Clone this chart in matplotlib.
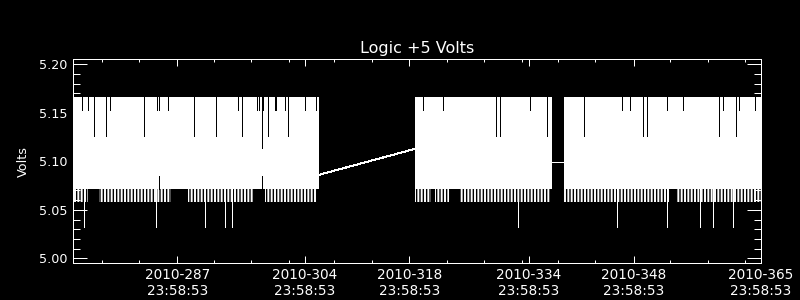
import matplotlib
matplotlib.use("Agg")
import matplotlib.pyplot as plt

# ---------------- data (day-of-year 2010, fractional) ----------------
title = "Logic +5 Volts"
ylabel = "Volts"

# continuous data segments [start, end]
seg_start = [274.00, 319.81, 339.69]
seg_end = [306.93, 338.04, 365.999]
# values at segment ends / starts (used by the connecting line across gaps)
seg_start_val = [5.100, 5.1129, 5.0995]
seg_end_val = [5.0861, 5.0995, 5.100]

band_low = 5.0717   # lower envelope of the dense signal
band_high = 5.1667  # upper envelope of the dense signal
dip_low = 5.0586    # frequent one-step dips below the band

# intervals where the frequent one-step dips occur
dip_start = [274.00, 277.56, 289.42, 299.71, 319.81, 322.44, 325.78, 339.69, 354.67]
dip_end = [276.05, 287.18, 298.24, 306.53, 321.90, 324.31, 337.81, 353.73, 365.99]

# deep negative spikes
spike_days = [275.55, 285.20, 291.73, 294.43, 295.34, 333.60, 346.84,
              353.50, 357.90, 359.65, 362.32]
spike_val = 5.032

# columns where the upper envelope is lower (slits from the top)
top_short_days = [275.20, 276.09, 279.03, 285.31, 285.58, 286.78, 296.14,
                  298.68, 298.95, 299.48, 301.09, 301.22, 302.42, 305.10,
                  306.49, 320.80, 323.55, 335.18, 347.48, 348.55, 353.50,
                  355.64, 360.98, 363.12, 365.26]
top_short_val = 5.1533
top_long_days = [276.89, 278.49, 283.57, 290.18, 293.20, 296.68, 300.07,
                 302.83, 330.64, 331.17, 337.41, 342.40, 350.29, 350.82,
                 360.45, 362.72]
top_long_val = 5.1265
top_deep_days = [299.35]
top_deep_val = 5.1132

# columns where the lower envelope is higher (slits from the bottom)
bottom_slit_days = [285.58, 299.35]
bottom_slit_val = 5.085

# axis ticks
major_tick_days = [287.99922, 304.99922, 318.99922, 334.99922, 348.99922, 365.99922]
major_tick_labels = ["2010-287\n23:58:53", "2010-304\n23:58:53", "2010-318\n23:58:53",
                     "2010-334\n23:58:53", "2010-348\n23:58:53", "2010-365\n23:58:53"]
minor_tick_days = [277.96, 282.90, 292.93, 297.88, 302.96, 308.98, 313.98,
                   324.00, 328.95, 334.03, 338.92, 343.90, 353.90, 358.98, 363.93]
y_major = [5.00, 5.05, 5.10, 5.15, 5.20]
y_minor = [5.01, 5.02, 5.03, 5.04, 5.06, 5.07, 5.08, 5.09,
           5.11, 5.12, 5.13, 5.14, 5.16, 5.17, 5.18, 5.19]
x_range = [274.00, 365.99922]
y_range = [4.995, 5.205]

# ---------------- drawing ----------------
plt.rcParams['font.family'] = ['DejaVu Sans']
plt.rcParams['hatch.linewidth'] = 1.4
PX = 0.72  # one pixel in points at dpi 100

fig = plt.figure(figsize=(8, 3), dpi=100, facecolor='black')
ax = fig.add_axes([72.7 / 800, 1 - 263.3 / 300, 688.0 / 800, 204.0 / 300])
ax.set_facecolor('black')

# dense band of each segment
for s, e in zip(seg_start, seg_end):
    ax.fill_between([s, e], [band_low, band_low], [band_high, band_high],
                    color='white', linewidth=0, antialiased=False)

# frequent dips, rendered as a fine vertical texture
for s, e in zip(dip_start, dip_end):
    ax.fill_between([s, e], [dip_low, dip_low], [band_low, band_low],
                    facecolor='none', edgecolor='white', hatch='|||||',
                    linewidth=0)

# connecting lines across data gaps
for i in range(len(seg_start) - 1):
    ax.plot([seg_end[i], seg_start[i + 1]], [seg_end_val[i], seg_start_val[i + 1]],
            color='white', linewidth=PX, antialiased=False)

# deep spikes
ax.vlines(spike_days, spike_val, band_low, colors='white', linewidth=PX,
          antialiased=False)

# slits
ax.vlines(top_short_days, top_short_val, band_high, colors='black', linewidth=PX,
          antialiased=False)
ax.vlines(top_long_days, top_long_val, band_high, colors='black', linewidth=PX,
          antialiased=False)
ax.vlines(top_deep_days, top_deep_val, band_high, colors='black', linewidth=PX,
          antialiased=False)
ax.vlines(bottom_slit_days, band_low, bottom_slit_val, colors='black', linewidth=PX,
          antialiased=False)

ax.set_xlim(*x_range)
ax.set_ylim(*y_range)

ax.set_xticks(major_tick_days)
ax.set_xticklabels(major_tick_labels, linespacing=1.15)
ax.set_xticks(minor_tick_days, minor=True)
ax.set_yticks(y_major)
ax.set_yticklabels([f"{v:.2f}" for v in y_major])
ax.set_yticks(y_minor, minor=True)

for sp in ax.spines.values():
    sp.set_color('white')
    sp.set_linewidth(PX)
    sp.set_zorder(5)

ax.tick_params(axis='both', which='both', direction='in', colors='white',
               top=True, right=True, width=PX, zorder=6)
ax.tick_params(axis='y', which='major', length=10, pad=3.5, labelsize=9.2)
ax.tick_params(axis='y', which='minor', length=5)
ax.tick_params(axis='x', which='major', length=4.7, pad=3.5, labelsize=9.8)
ax.tick_params(axis='x', which='minor', length=2.5)

ax.set_title(title, color='white', fontsize=11.5, pad=4.3)
ax.set_ylabel(ylabel, color='white', fontsize=9.2)
ax.yaxis.set_label_coords(-0.062, 0.5)

fig.savefig('out.png', dpi=100, facecolor='black')
